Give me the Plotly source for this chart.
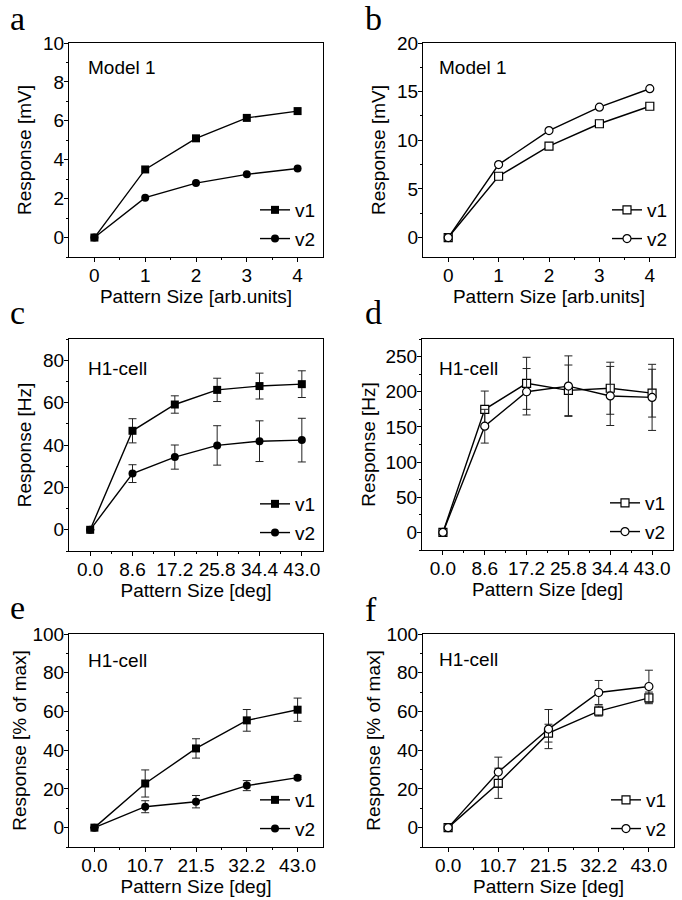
import plotly.graph_objects as go

# ---------------- data ----------------
x_arb = [0, 1, 2, 3, 4]
x_arb_labels = ["0", "1", "2", "3", "4"]

a_v1 = [0, 3.5, 5.1, 6.15, 6.5]
a_v2 = [0, 2.05, 2.8, 3.25, 3.55]

b_v1 = [0, 6.3, 9.4, 11.7, 13.5]
b_v2 = [0, 7.5, 11.0, 13.4, 15.3]

x_deg6 = [0.0, 8.6, 17.2, 25.8, 34.4, 43.0]
x_deg6_labels = ["0.0", "8.6", "17.2", "25.8", "34.4", "43.0"]

c_v1 = [0, 46.7, 59.1, 66.0, 67.8, 68.7]
c_v1_err = [0, 5.7, 4.1, 5.5, 6.1, 6.3]
c_v2 = [0, 26.5, 34.3, 39.8, 41.8, 42.3]
c_v2_err = [0, 4.2, 5.7, 9.3, 9.6, 10.3]

d_v1 = [0, 175, 212, 202, 205, 198]
d_v1_err = [0, 26, 37, 36, 37, 34]
d_v2 = [0, 151, 200, 208, 194, 192]
d_v2_err = [0, 24, 33, 43, 42, 47]

x_deg5 = [0.0, 10.75, 21.5, 32.25, 43.0]
x_deg5_labels = ["0.0", "10.7", "21.5", "32.2", "43.0"]

e_v1 = [0, 22.8, 40.9, 55.4, 60.9]
e_v1_err = [0, 7.0, 5.0, 5.6, 6.0]
e_v2 = [0, 10.8, 13.4, 21.7, 25.8]
e_v2_err = [0, 3.1, 3.2, 2.6, 1.0]

f_v1 = [0, 22.9, 48.8, 60.2, 67.0]
f_v1_err = [0, 7.8, 4.6, 2.6, 3.0]
f_v2 = [0, 28.7, 50.9, 69.8, 72.9]
f_v2_err = [0, 7.7, 10.1, 6.2, 8.4]

series_names = ["v1", "v2"]

# ---------------- layout helpers ----------------
W, H = 682, 900
SANS = "Liberation Sans, Arial, Helvetica, sans-serif"
SERIF = "Liberation Serif, Times New Roman, serif"


def fx(p):
    return p / W


def fy(p):
    return 1 - p / H


def mid(vals):
    return [(vals[i] + vals[i + 1]) / 2 for i in range(len(vals) - 1)]


panels = [
    dict(letter="a", note="Model 1", box=(69, 323, 43, 257), note_xy=(86, 67),
         x=x_arb, xl=x_arb_labels, ysd=6,
         xr=[-0.5, 4.5], yr=[-1, 10], dt=2, ys=[a_v1, a_v2], es=[None, None], filled=True,
         xt="Pattern Size [arb.units]", yt="Response [mV]"),
    dict(letter="b", note="Model 1", box=(423, 675, 43, 257), note_xy=(437, 67),
         x=x_arb, xl=x_arb_labels, ysd=6,
         xr=[-0.5, 4.5], yr=[-2, 20], dt=5, ys=[b_v1, b_v2], es=[None, None], filled=False,
         xt="Pattern Size [arb.units]", yt="Response [mV]"),
    dict(letter="c", note="H1-cell", box=(69, 323, 339, 551), note_xy=(86, 368),
         x=x_deg6, xl=x_deg6_labels, ysd=6,
         xr=[-4.3, 47.3], yr=[-10, 90], dt=20, ys=[c_v1, c_v2], es=[c_v1_err, c_v2_err],
         filled=True, xt="Pattern Size [deg]", yt="Response [Hz]"),
    dict(letter="d", note="H1-cell", box=(422, 673, 339, 550), note_xy=(437, 368),
         x=x_deg6, xl=x_deg6_labels, ysd=4,
         xr=[-4.3, 47.3], yr=[-25, 275], dt=50, ys=[d_v1, d_v2], es=[d_v1_err, d_v2_err],
         filled=False, xt="Pattern Size [deg]", yt="Response [Hz]"),
    dict(letter="e", note="H1-cell", box=(69, 323, 634, 847), note_xy=(86, 660),
         x=x_deg5, xl=x_deg5_labels, ysd=0,
         xr=[-5.375, 48.375], yr=[-10, 100], dt=20, ys=[e_v1, e_v2], es=[e_v1_err, e_v2_err],
         filled=True, xt="Pattern Size [deg]", yt="Response [% of max]"),
    dict(letter="f", note="H1-cell", box=(423, 674, 634, 847), note_xy=(437, 659),
         x=x_deg5, xl=x_deg5_labels, ysd=0,
         xr=[-5.375, 48.375], yr=[-10, 100], dt=20, ys=[f_v1, f_v2], es=[f_v1_err, f_v2_err],
         filled=False, xt="Pattern Size [deg]", yt="Response [% of max]"),
]

letter_pos = {"a": (8, 18), "b": (363, 18), "c": (8, 312), "d": (363, 312),
              "e": (8, 607), "f": (363, 609)}

fig = go.Figure()
layout = dict(
    template="none",
    width=W, height=H, margin=dict(l=0, r=0, t=0, b=0, autoexpand=False),
    paper_bgcolor="white", plot_bgcolor="white",
    font=dict(family=SANS, size=18, color="black"),
    showlegend=True, annotations=[],
)

for i, p in enumerate(panels, start=1):
    xa = "x" if i == 1 else f"x{i}"
    ya = "y" if i == 1 else f"y{i}"
    lg = "legend" if i == 1 else f"legend{i}"
    L, R, T, B = p["box"]
    for k, name in enumerate(series_names):
        sym = "square" if k == 0 else "circle"
        if p["filled"]:
            mk = dict(symbol=sym, size=8, color="black", line=dict(color="black", width=0))
        else:
            mk = dict(symbol=sym, size=8, color="white", line=dict(color="black", width=1.2))
        err = None
        if p["es"][k] is not None:
            err = dict(type="data", array=p["es"][k], visible=True, color="#222",
                       thickness=1, width=4)
        fig.add_trace(go.Scatter(
            x=p["x"], y=p["ys"][k], mode="lines+markers", name=name,
            line=dict(color="black", width=1.4), marker=mk, error_y=err,
            xaxis=xa, yaxis=ya, legend=lg, legendgroup=f"{p['letter']}{name}",
            showlegend=True,
        ))
    ax_common = dict(showline=True, linecolor="black", linewidth=1, mirror=True,
                     ticks="outside", ticklen=4, tickwidth=1, tickcolor="black",
                     showgrid=False, zeroline=False, fixedrange=True, automargin=False,
                     tickfont=dict(family=SANS, size=19, color="black"))
    layout["xaxis" if i == 1 else f"xaxis{i}"] = dict(
        ax_common, domain=[fx(L), fx(R)], range=p["xr"], anchor=ya,
        tickmode="array", tickvals=p["x"], ticktext=p["xl"], ticklabelstandoff=-3,
        minor=dict(ticks="outside", ticklen=2, tickcolor="black", tickmode="array",
                   tickvals=mid(p["x"])),
        title=dict(text=p["xt"], font=dict(family=SANS, size=19), standoff=3),
    )
    layout["yaxis" if i == 1 else f"yaxis{i}"] = dict(
        ax_common, domain=[fy(B), fy(T)], range=p["yr"], anchor=xa,
        dtick=p["dt"], tick0=0, ticklabelstandoff=-4,
        minor=dict(ticks="outside", ticklen=2, tickcolor="black", dtick=p["dt"] / 2),
        title=dict(text=p["yt"], font=dict(family=SANS, size=19), standoff=p["ysd"]),
    )
    layout[lg] = dict(
        x=fx(R - 2), y=fy(B + 1), xanchor="right", yanchor="bottom",
        xref="paper", yref="paper",
        bgcolor="rgba(0,0,0,0)", borderwidth=0,
        font=dict(family=SANS, size=19, color="black"),
        tracegroupgap=1, itemwidth=30,
    )
    nx, ny = p["note_xy"]
    layout["annotations"].append(dict(
        text=p["note"], xref=f"{xa} domain", yref=f"{ya} domain",
        x=(nx - L) / (R - L), y=(B - ny) / (B - T),
        xanchor="left", yanchor="middle", showarrow=False,
        font=dict(family=SANS, size=19, color="black"),
    ))
    lx, ly = letter_pos[p["letter"]]
    layout["annotations"].append(dict(
        text=p["letter"], xref="paper", yref="paper", x=fx(lx), y=fy(ly),
        xanchor="left", yanchor="middle", showarrow=False,
        font=dict(family=SERIF, size=34, color="black"),
    ))

fig.update_layout(**layout)
fig.write_html("out.html", config={"displayModeBar": False},
               post_script="document.body.style.margin='0px';document.body.style.overflow='hidden';")
